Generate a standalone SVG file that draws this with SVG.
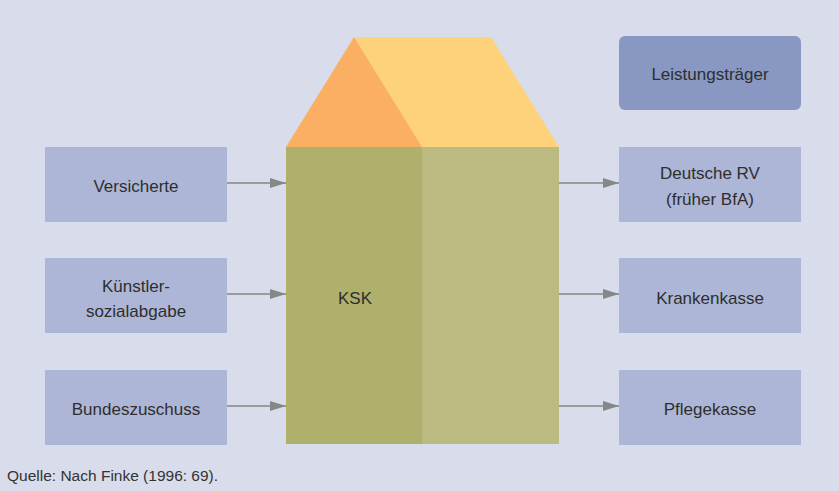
<svg xmlns="http://www.w3.org/2000/svg" width="839" height="491" viewBox="0 0 839 491">
<defs>
<style>
.box{fill:#adb6d7}
.lt{fill:#8898c2}
.t{font-family:"Liberation Sans",Arial,sans-serif;font-size:17px;fill:#2e2e2e;text-anchor:middle}
.src{font-family:"Liberation Sans",Arial,sans-serif;font-size:15.5px;fill:#333}
.c{stroke:#878787;stroke-width:1.5;fill:none}
</style>
<marker id="ah" viewBox="0 0 16 10" refX="16" refY="5" markerWidth="16" markerHeight="10" markerUnits="userSpaceOnUse" orient="auto">
<path d="M0,0 L16,5 L0,10 Z" fill="#878787"/>
</marker>
</defs>
<rect width="839" height="491" fill="#d9dcea"/>
<g id="ksk">
<polygon points="354,37 491,37 559,147 422,147" fill="#fdd27b"/>
<polygon points="286,147 354,37 422,147" fill="#fbaf62"/>
<rect x="286" y="147" width="136" height="297" fill="#aeb06b"/>
<rect x="422" y="147" width="137" height="297" fill="#bbbb81"/>
<text class="t" x="355" y="304" font-size="18">KSK</text>
</g>
<g id="versicherte"><rect class="box" x="45" y="147" width="182" height="75"/><text class="t" x="136" y="192">Versicherte</text></g>
<g id="kuenstlersozialabgabe"><rect class="box" x="45" y="258" width="182" height="75"/><text class="t" x="136" y="292">Künstler-</text><text class="t" x="136" y="317">sozialabgabe</text></g>
<g id="bundeszuschuss"><rect class="box" x="45" y="370" width="182" height="75"/><text class="t" x="136" y="415">Bundeszuschuss</text></g>
<g id="leistungstraeger"><rect class="lt" x="619" y="36" width="182" height="74" rx="6"/><text class="t" x="710" y="80">Leistungsträger</text></g>
<g id="deutsche-rv"><rect class="box" x="619" y="147" width="182" height="75"/><text class="t" x="710" y="179">Deutsche RV</text><text class="t" x="710" y="205">(früher BfA)</text></g>
<g id="krankenkasse"><rect class="box" x="619" y="258" width="182" height="75"/><text class="t" x="710" y="304">Krankenkasse</text></g>
<g id="pflegekasse"><rect class="box" x="619" y="370" width="182" height="75"/><text class="t" x="710" y="415">Pflegekasse</text></g>
<g id="connectors">
<line class="c" x1="227" y1="183" x2="286" y2="183" marker-end="url(#ah)"/>
<line class="c" x1="227" y1="294" x2="286" y2="294" marker-end="url(#ah)"/>
<line class="c" x1="227" y1="406" x2="286" y2="406" marker-end="url(#ah)"/>
<line class="c" x1="559" y1="183" x2="619" y2="183" marker-end="url(#ah)"/>
<line class="c" x1="559" y1="294" x2="619" y2="294" marker-end="url(#ah)"/>
<line class="c" x1="559" y1="406" x2="619" y2="406" marker-end="url(#ah)"/>
</g>
<text class="src" x="7" y="481">Quelle: Nach Finke (1996: 69).</text>
</svg>
